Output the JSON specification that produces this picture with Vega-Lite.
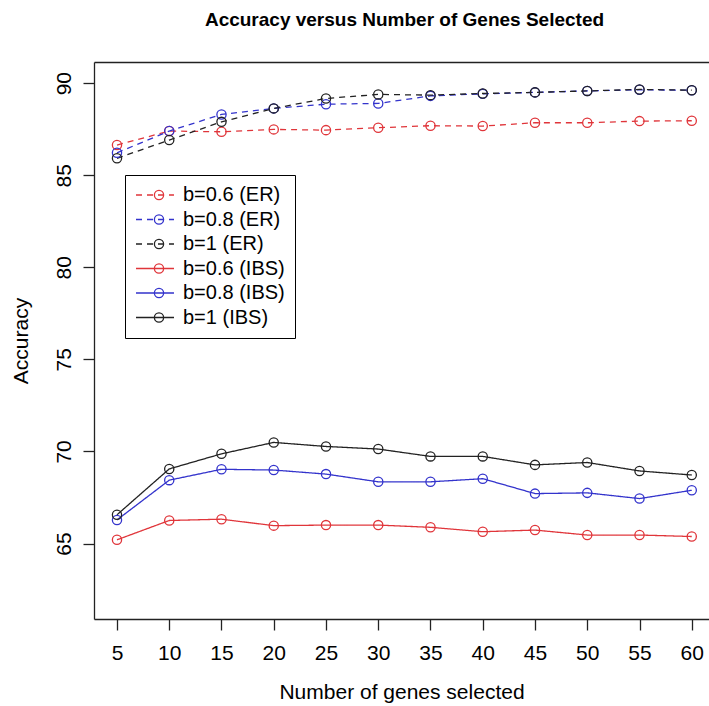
{
  "$schema": "https://vega.github.io/schema/vega-lite/v6.json",
  "width": 615,
  "height": 557,
  "autosize": "none",
  "padding": {"left": 94, "top": 62, "right": 0, "bottom": 87},
  "background": "white",
  "config": {
    "view": {"stroke": null},
    "font": "Liberation Sans",
    "axis": {
      "grid": false,
      "domainColor": "#222222",
      "tickColor": "#222222",
      "labelColor": "black",
      "titleColor": "black",
      "labelFont": "Liberation Sans",
      "titleFont": "Liberation Sans",
      "labelFontSize": 21,
      "titleFontSize": 21,
      "titleFontWeight": "normal",
      "tickSize": 11,
      "domainWidth": 1.3,
      "tickWidth": 1.3
    }
  },
  "title": {
    "text": "Accuracy versus Number of Genes Selected",
    "fontSize": 19,
    "fontWeight": "bold",
    "font": "Liberation Sans",
    "color": "black",
    "anchor": "middle",
    "offset": 32,
    "dx": 3
  },
  "data": {
    "values": [
      {"n": 5, "acc": 86.64, "series": "b=0.6 (ER)"},
      {"n": 10, "acc": 87.40, "series": "b=0.6 (ER)"},
      {"n": 15, "acc": 87.36, "series": "b=0.6 (ER)"},
      {"n": 20, "acc": 87.49, "series": "b=0.6 (ER)"},
      {"n": 25, "acc": 87.45, "series": "b=0.6 (ER)"},
      {"n": 30, "acc": 87.58, "series": "b=0.6 (ER)"},
      {"n": 35, "acc": 87.69, "series": "b=0.6 (ER)"},
      {"n": 40, "acc": 87.67, "series": "b=0.6 (ER)"},
      {"n": 45, "acc": 87.85, "series": "b=0.6 (ER)"},
      {"n": 50, "acc": 87.85, "series": "b=0.6 (ER)"},
      {"n": 55, "acc": 87.94, "series": "b=0.6 (ER)"},
      {"n": 60, "acc": 87.96, "series": "b=0.6 (ER)"},
      {"n": 5, "acc": 86.22, "series": "b=0.8 (ER)"},
      {"n": 10, "acc": 87.40, "series": "b=0.8 (ER)"},
      {"n": 15, "acc": 88.30, "series": "b=0.8 (ER)"},
      {"n": 20, "acc": 88.63, "series": "b=0.8 (ER)"},
      {"n": 25, "acc": 88.86, "series": "b=0.8 (ER)"},
      {"n": 30, "acc": 88.90, "series": "b=0.8 (ER)"},
      {"n": 35, "acc": 89.31, "series": "b=0.8 (ER)"},
      {"n": 40, "acc": 89.42, "series": "b=0.8 (ER)"},
      {"n": 45, "acc": 89.50, "series": "b=0.8 (ER)"},
      {"n": 50, "acc": 89.58, "series": "b=0.8 (ER)"},
      {"n": 55, "acc": 89.64, "series": "b=0.8 (ER)"},
      {"n": 60, "acc": 89.62, "series": "b=0.8 (ER)"},
      {"n": 5, "acc": 85.92, "series": "b=1 (ER)"},
      {"n": 10, "acc": 86.91, "series": "b=1 (ER)"},
      {"n": 15, "acc": 87.90, "series": "b=1 (ER)"},
      {"n": 20, "acc": 88.63, "series": "b=1 (ER)"},
      {"n": 25, "acc": 89.17, "series": "b=1 (ER)"},
      {"n": 30, "acc": 89.39, "series": "b=1 (ER)"},
      {"n": 35, "acc": 89.35, "series": "b=1 (ER)"},
      {"n": 40, "acc": 89.44, "series": "b=1 (ER)"},
      {"n": 45, "acc": 89.50, "series": "b=1 (ER)"},
      {"n": 50, "acc": 89.58, "series": "b=1 (ER)"},
      {"n": 55, "acc": 89.66, "series": "b=1 (ER)"},
      {"n": 60, "acc": 89.62, "series": "b=1 (ER)"},
      {"n": 5, "acc": 65.20, "series": "b=0.6 (IBS)"},
      {"n": 10, "acc": 66.25, "series": "b=0.6 (IBS)"},
      {"n": 15, "acc": 66.32, "series": "b=0.6 (IBS)"},
      {"n": 20, "acc": 65.97, "series": "b=0.6 (IBS)"},
      {"n": 25, "acc": 66.00, "series": "b=0.6 (IBS)"},
      {"n": 30, "acc": 66.00, "series": "b=0.6 (IBS)"},
      {"n": 35, "acc": 65.88, "series": "b=0.6 (IBS)"},
      {"n": 40, "acc": 65.64, "series": "b=0.6 (IBS)"},
      {"n": 45, "acc": 65.73, "series": "b=0.6 (IBS)"},
      {"n": 50, "acc": 65.46, "series": "b=0.6 (IBS)"},
      {"n": 55, "acc": 65.46, "series": "b=0.6 (IBS)"},
      {"n": 60, "acc": 65.38, "series": "b=0.6 (IBS)"},
      {"n": 5, "acc": 66.28, "series": "b=0.8 (IBS)"},
      {"n": 10, "acc": 68.44, "series": "b=0.8 (IBS)"},
      {"n": 15, "acc": 69.03, "series": "b=0.8 (IBS)"},
      {"n": 20, "acc": 68.99, "series": "b=0.8 (IBS)"},
      {"n": 25, "acc": 68.77, "series": "b=0.8 (IBS)"},
      {"n": 30, "acc": 68.35, "series": "b=0.8 (IBS)"},
      {"n": 35, "acc": 68.35, "series": "b=0.8 (IBS)"},
      {"n": 40, "acc": 68.52, "series": "b=0.8 (IBS)"},
      {"n": 45, "acc": 67.71, "series": "b=0.8 (IBS)"},
      {"n": 50, "acc": 67.75, "series": "b=0.8 (IBS)"},
      {"n": 55, "acc": 67.44, "series": "b=0.8 (IBS)"},
      {"n": 60, "acc": 67.89, "series": "b=0.8 (IBS)"},
      {"n": 5, "acc": 66.56, "series": "b=1 (IBS)"},
      {"n": 10, "acc": 69.05, "series": "b=1 (IBS)"},
      {"n": 15, "acc": 69.87, "series": "b=1 (IBS)"},
      {"n": 20, "acc": 70.49, "series": "b=1 (IBS)"},
      {"n": 25, "acc": 70.27, "series": "b=1 (IBS)"},
      {"n": 30, "acc": 70.13, "series": "b=1 (IBS)"},
      {"n": 35, "acc": 69.73, "series": "b=1 (IBS)"},
      {"n": 40, "acc": 69.73, "series": "b=1 (IBS)"},
      {"n": 45, "acc": 69.27, "series": "b=1 (IBS)"},
      {"n": 50, "acc": 69.40, "series": "b=1 (IBS)"},
      {"n": 55, "acc": 68.94, "series": "b=1 (IBS)"},
      {"n": 60, "acc": 68.72, "series": "b=1 (IBS)"}
    ]
  },
  "layer": [
    {
      "mark": {"type": "line", "strokeWidth": 1.3},
      "encoding": {
        "x": {
          "field": "n",
          "type": "quantitative",
          "scale": {"domain": [2.8, 61.65], "nice": false, "zero": false},
          "axis": {
            "values": [5, 10, 15, 20, 25, 30, 35, 40, 45, 50, 55, 60],
            "title": "Number of genes selected",
            "labelPadding": 12,
            "titlePadding": 18,
            "labelFlush": false
          }
        },
        "y": {
          "field": "acc",
          "type": "quantitative",
          "scale": {"domain": [60.9, 91.15], "nice": false, "zero": false},
          "axis": {
            "values": [65, 70, 75, 80, 85, 90],
            "title": "Accuracy",
            "labelAngle": -90,
            "labelAlign": "center",
            "labelBaseline": "alphabetic",
            "labelPadding": 13,
            "titlePadding": 22
          }
        },
        "color": {
          "field": "series",
          "type": "nominal",
          "scale": {
            "domain": ["b=0.6 (ER)", "b=0.8 (ER)", "b=1 (ER)", "b=0.6 (IBS)", "b=0.8 (IBS)", "b=1 (IBS)"],
            "range": ["#E0353A", "#3333CC", "#222222", "#E0353A", "#3333CC", "#222222"]
          },
          "legend": {
            "orient": "none",
            "legendX": 31,
            "legendY": 113,
            "title": null,
            "padding": 10,
            "rowPadding": 4.5,
            "labelFontSize": 20,
            "labelFont": "Liberation Sans",
            "labelColor": "black",
            "symbolType": "M-1,0L3.222,0",
            "symbolSize": 324,
            "symbolStrokeWidth": 1.3,
            "symbolFillColor": "transparent",
            "labelOffset": 28,
            "strokeColor": "black"
          }
        },
        "strokeDash": {
          "field": "series",
          "type": "nominal",
          "scale": {
            "domain": ["b=0.6 (ER)", "b=0.8 (ER)", "b=1 (ER)", "b=0.6 (IBS)", "b=0.8 (IBS)", "b=1 (IBS)"],
            "range": [[6, 5], [6, 5], [6, 5], [1, 0], [1, 0], [1, 0]]
          },
          "legend": {
            "orient": "none",
            "legendX": 31,
            "legendY": 113,
            "title": null,
            "padding": 10,
            "rowPadding": 4.5,
            "labelFontSize": 20,
            "labelFont": "Liberation Sans",
            "labelColor": "black",
            "symbolType": "M-1,0L3.222,0",
            "symbolSize": 324,
            "symbolStrokeWidth": 1.3,
            "symbolFillColor": "transparent",
            "labelOffset": 28,
            "strokeColor": "black"
          }
        }
      }
    },
    {
      "mark": {"type": "point", "shape": "circle", "filled": false, "size": 85, "strokeWidth": 1.3, "opacity": 1},
      "encoding": {
        "x": {
          "field": "n",
          "type": "quantitative",
          "axis": {"orient": "top", "labels": false, "ticks": false, "title": null, "domain": true}
        },
        "y": {"field": "acc", "type": "quantitative"},
        "color": {
          "field": "series",
          "type": "nominal",
          "scale": {
            "domain": ["b=0.6 (ER)", "b=0.8 (ER)", "b=1 (ER)", "b=0.6 (IBS)", "b=0.8 (IBS)", "b=1 (IBS)"],
            "range": ["#E0353A", "#3333CC", "#222222", "#E0353A", "#3333CC", "#222222"]
          },
          "legend": {
            "orient": "none",
            "legendX": 45,
            "legendY": 113,
            "title": null,
            "padding": 10,
            "rowPadding": 4.5,
            "labelFontSize": 20,
            "labelExpr": "' '",
            "labelOpacity": 0,
            "symbolType": "circle",
            "symbolSize": 85,
            "symbolStrokeWidth": 1.3
          }
        }
      }
    }
  ],
  "resolve": {"scale": {"color": "independent", "strokeDash": "independent"}, "axis": {"x": "independent"}}
}
